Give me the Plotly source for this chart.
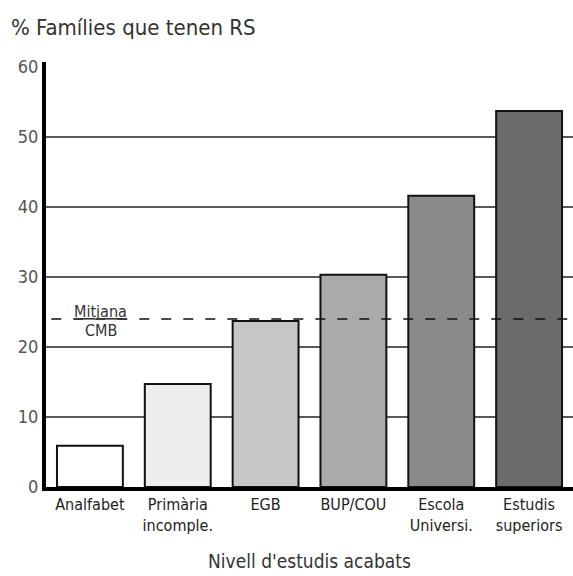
import plotly.graph_objects as go

# data
categories = ["Analfabet", "Primària<br>incomple.", "EGB", "BUP/COU", "Escola<br>Universi.", "Estudis<br>superiors"]
values = [5.9, 14.7, 23.7, 30.3, 41.6, 53.7]
mitjana_cmb = 24.0
grid_values = [10, 20, 30, 40, 50]
y_ticks = [0, 10, 20, 30, 40, 50, 60]

bar_colors = ["#ffffff", "#eeeeee", "#c6c6c6", "#aaaaaa", "#8a8a8a", "#6b6b6b"]
FONT = "DejaVu Sans Condensed, Liberation Sans Narrow, sans-serif"

fig = go.Figure()

fig.add_trace(go.Bar(
    x=categories,
    y=values,
    width=0.75,
    marker=dict(color=bar_colors, line=dict(color="#111111", width=2)),
    hoverinfo="skip",
))

# horizontal grid lines (behind the bars, none at 60)
for g in grid_values:
    fig.add_shape(type="line", xref="paper", yref="y", x0=0, x1=1, y0=g, y1=g,
                  line=dict(color="#222222", width=1.5), layer="below")

# dashed mean line
fig.add_shape(type="line", xref="paper", yref="y", x0=0.01, x1=1, y0=mitjana_cmb, y1=mitjana_cmb,
              line=dict(color="#111111", width=1.5, dash="10px,12px"), layer="above")

fig.add_annotation(x=0.104, xref="paper", y=mitjana_cmb, yref="y", xanchor="center",
                   text="<u>Mitjana</u>", showarrow=False, yanchor="bottom", yshift=-4,
                   font=dict(family=FONT, size=16, color="#333333"))
fig.add_annotation(x=0.104, xref="paper", y=mitjana_cmb, yref="y", xanchor="center",
                   text="CMB", showarrow=False, yanchor="top", yshift=0,
                   font=dict(family=FONT, size=16, color="#333333"))

fig.add_annotation(x=0, xref="paper", y=1.0, yref="paper",
                   text="% Famílies que tenen RS", showarrow=False,
                   xanchor="left", yanchor="bottom", xshift=-37, yshift=20,
                   font=dict(family=FONT, size=22, color="#333333"))

fig.update_layout(
    width=573, height=576,
    margin=dict(l=46, r=0, t=62, b=89),
    plot_bgcolor="white", paper_bgcolor="white",
    showlegend=False,
    font=dict(family=FONT, color="#333333"),
)

fig.update_xaxes(
    showline=True, linewidth=4, linecolor="#000000",
    ticks="", tickfont=dict(family=FONT, size=16, color="#222222"),
    title=dict(text="Nivell d'estudis acabats", font=dict(family=FONT, size=19, color="#333333"), standoff=22),
    range=[-0.5, 5.5],
)
fig.update_yaxes(
    showline=True, linewidth=4, linecolor="#000000",
    showgrid=False, zeroline=False,
    range=[0, 60.7], tickvals=y_ticks, ticks="",
    tickfont=dict(family=FONT, size=18, color="#555555"),
    ticklabelstandoff=0,
)

# page body has a default 8px margin, drop it so the figure sits at 0,0
fig.write_html("out.html", config={"displayModeBar": False},
               post_script="document.body.style.margin='0';")
